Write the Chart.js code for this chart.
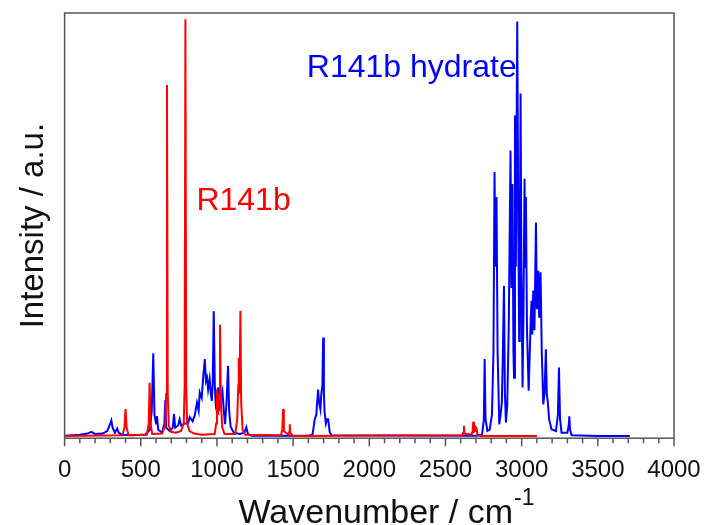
<!DOCTYPE html>
<html>

<head>
    <title>R141b spectra</title>
    <script src="https://cdn.jsdelivr.net/npm/chart.js"></script>
    <style>
        html, body { margin: 0; padding: 0; background: #fff; }
        .chart-container { width: 704px; height: 525px; }
    </style>
</head>

<body>
    <div class="chart-container">
        <canvas id="chart1"></canvas>
    </div>

    <script>
        // R141b (red)
        const redX = [0, 380, 393, 400, 407, 420,
            540, 552, 558, 564, 575,
            640, 660, 667, 672, 677, 684, 700, 730, 765, 782, 788, 793, 798, 804, 820, 850, 900,
            985, 995, 1000, 1008, 1014, 1020, 1026, 1035, 1050,
            1120, 1133, 1140, 1143, 1148, 1154, 1159, 1168, 1185,
            1420, 1429, 1434, 1439, 1470, 1475, 1478, 1481, 1500,
            2610, 2617, 2621, 2625, 2670, 2678, 2682, 2687, 2695, 2700, 2704, 2710, 2730, 3100];
        const redY = [0, 0.2, 2, 6.4, 2, 0.2,
            0.3, 3, 12.6, 3, 0.5,
            0.6, 2.5, 10, 83, 10, 2.5, 1, 0.8, 1.2, 3, 12, 98.5, 12, 3, 1.2, 0.6, 0.3,
            0.5, 3, 11, 5, 10, 26.3, 8, 2, 0.5,
            0.5, 4, 12, 18.5, 10, 29.6, 8, 1.5, 0.3,
            0.2, 1.5, 6.4, 1.2, 0.3, 1, 2.8, 0.8, 0,
            0.2, 0.8, 2.4, 0.6, 0.3, 1.2, 3.4, 1, 1.2, 2, 1.8, 0.4, 0, 0];

        // R141b hydrate (blue)
        const blueX = [0, 100, 150, 175, 200, 250, 280, 300, 307, 315, 330, 345, 355, 380, 450,
            530, 560, 572, 582, 590, 600, 606, 615, 640, 655, 661, 667, 690, 710, 718, 726, 745, 755, 765,
            790, 810, 821, 840, 855, 869, 880, 887, 900, 910, 920, 928, 935, 942, 952, 960, 966, 972, 979,
            986, 992, 1000, 1007, 1015, 1025, 1036, 1045, 1053, 1063, 1073, 1080, 1090, 1110, 1150, 1180,
            1193, 1203, 1230, 1600, 1627, 1642, 1652, 1664, 1670, 1679, 1685, 1692, 1697, 1702, 1706,
            1715, 1722, 1730, 1740, 1752, 2700, 2740, 2752, 2757, 2763, 2775, 2790, 2805, 2815, 2822,
            2828, 2835, 2842, 2853, 2862, 2870, 2877, 2884, 2890, 2897, 2905, 2915, 2927, 2933, 2940,
            2946, 2950, 2956, 2962, 2971, 2978, 2984, 2988, 2993, 2998, 3006, 3012, 3019, 3023, 3028,
            3035, 3046, 3052, 3060, 3065, 3070, 3076, 3084, 3094, 3100, 3109, 3115, 3124, 3132, 3142,
            3150, 3159, 3165, 3172, 3180, 3196, 3225, 3238, 3245, 3252, 3262, 3300, 3309, 3313, 3318,
            3328, 3500, 3710];
        const blueY = [0.1, 0.3, 0.6, 1, 0.5, 0.6, 1.2, 3, 3.7, 2, 0.8, 1.8, 0.8, 0.3, 0.2,
            0.4, 1.5, 6, 19.6, 5, 3, 4.7, 1.5, 0.8, 3, 8.5, 2, 1.2, 2, 5.2, 2, 2.5, 4, 2.5,
            3, 3, 4.5, 3.5, 5, 7.9, 6, 10.3, 9, 14, 18.2, 13, 13.8, 11, 13.5, 10, 8.3, 12, 29.5,
            12, 7.6, 9, 11.5, 6, 9, 10.7, 6, 2.8, 8, 16.6, 6, 2.2, 0.8, 0.5, 0.8,
            2.1, 0.5, 0.1, 0.1, 0.3, 4, 5, 11, 8, 6.3, 10, 12, 23.3, 10, 5.9,
            3, 4, 4, 1, 0.2, 0.1, 0.3, 4, 18.2, 4, 1.2, 1.5, 5, 20, 62.4,
            40, 56.5, 20, 2.8, 5, 8, 20, 35.5, 10, 3.2, 7, 25, 67.5, 35, 59.6,
            20, 13.8, 75.8, 40, 98, 50, 22.5, 40, 81, 40, 11.5, 30, 60.8, 40, 56.5,
            25, 10.7, 18, 28, 32, 24, 34.4, 25, 50.5, 30, 39.1, 28, 38.7, 20, 7.5,
            10, 20.5, 10, 7.9, 4, 1.6, 1.2, 5, 16.2, 4, 0.8, 0.8, 2.5, 4.7, 1.5,
            0.2, 0, 0];

        const xTickLabels = [0, 500, 1000, 1500, 2000, 2500, 3000, 3500, 4000];

        const toPoints = (xs, ys) => xs.map((x, i) => ({ x: x, y: ys[i] }));

        const FONT = '"Liberation Sans", Arial, sans-serif';

        // box around the plot, tick marks (minor 100, major 500), labels and the x title with superscript
        const decorations = {
            id: 'decorations',
            afterDraw(chart) {
                const ctx = chart.ctx;
                const a = chart.chartArea;
                const xs = chart.scales.x;
                ctx.save();
                ctx.strokeStyle = '#555';
                ctx.lineWidth = 1.5;
                ctx.strokeRect(a.left, a.top, a.right - a.left, a.bottom - a.top);

                ctx.beginPath();
                xs.ticks.forEach(t => {
                    const px = xs.getPixelForValue(t.value);
                    const len = xTickLabels.includes(t.value) ? 8 : 5;
                    ctx.moveTo(px, a.bottom);
                    ctx.lineTo(px, a.bottom + len);
                });
                ctx.stroke();

                ctx.font = '32px ' + FONT;
                ctx.textBaseline = 'alphabetic';
                ctx.fillStyle = '#0000ff';
                ctx.fillText('R141b hydrate', xs.getPixelForValue(1590), 77);
                ctx.fillStyle = '#ff0000';
                ctx.fillText('R141b', xs.getPixelForValue(865), 210);

                // x title: Wavenumber / cm^-1
                const main = 'Wavenumber / cm';
                const sup = '-1';
                ctx.fillStyle = '#111';
                ctx.font = '34px ' + FONT;
                const w1 = ctx.measureText(main).width;
                ctx.font = '23px ' + FONT;
                const w2 = ctx.measureText(sup).width;
                const x0 = 386 - (w1 + w2) / 2;
                ctx.font = '34px ' + FONT;
                ctx.fillText(main, x0, 523);
                ctx.font = '23px ' + FONT;
                ctx.fillText(sup, x0 + w1 + 1, 505);
                ctx.restore();
            }
        };

        new Chart(document.getElementById('chart1'), {
            type: 'scatter',
            data: {
                datasets: [{
                    label: 'R141b',
                    data: toPoints(redX, redY),
                    borderColor: '#ff0000',
                    borderWidth: 2,
                    showLine: true,
                    pointRadius: 0,
                    fill: false
                }, {
                    label: 'R141b hydrate',
                    data: toPoints(blueX, blueY),
                    borderColor: '#0000ff',
                    borderWidth: 2,
                    showLine: true,
                    pointRadius: 0,
                    fill: false
                }]
            },
            options: {
                responsive: true,
                maintainAspectRatio: false,
                animation: false,
                layout: {
                    padding: { left: 14, right: 30, top: 13, bottom: 37 }
                },
                plugins: {
                    legend: { display: false },
                    tooltip: { enabled: false }
                },
                scales: {
                    x: {
                        type: 'linear',
                        min: 0,
                        max: 4000,
                        border: { display: false },
                        grid: {
                            drawOnChartArea: false,
                            drawTicks: true,
                            tickLength: 15,
                            color: 'rgba(0,0,0,0)'
                        },
                        ticks: {
                            stepSize: 100,
                            autoSkip: false,
                            maxRotation: 0,
                            padding: 3,
                            color: '#111',
                            font: { family: FONT, size: 24 },
                            callback: v => (v % 500 === 0 ? String(v) : '')
                        }
                    },
                    y: {
                        min: -0.5,
                        max: 100,
                        border: { display: false },
                        grid: { display: false },
                        ticks: { display: false },
                        title: {
                            display: true,
                            text: 'Intensity / a.u.',
                            color: '#111',
                            font: { family: FONT, size: 33 },
                            padding: { top: 0, bottom: 3 }
                        }
                    }
                }
            },
            plugins: [decorations]
        });
    </script>
</body>

</html>
